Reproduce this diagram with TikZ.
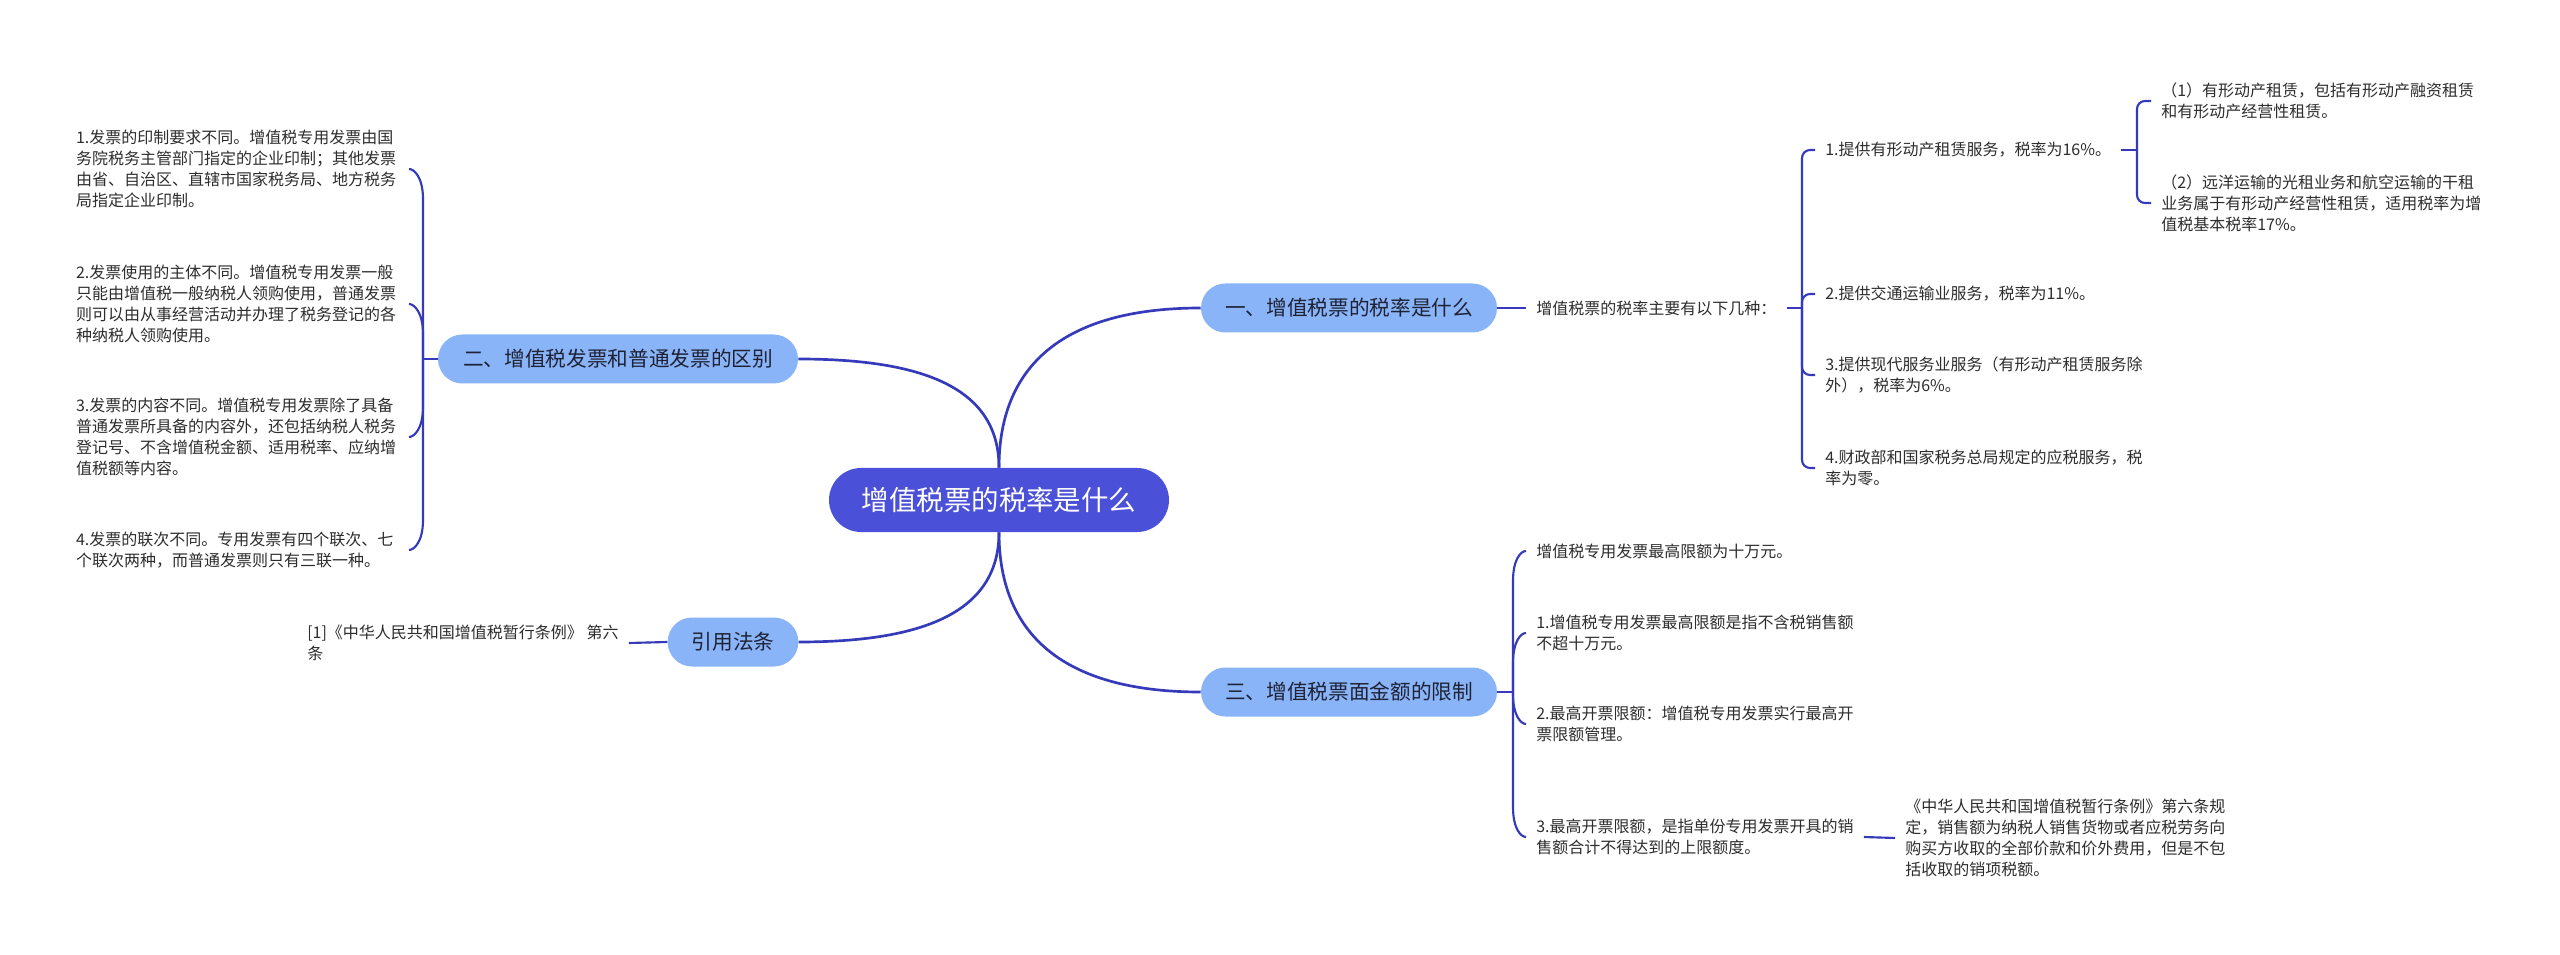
\documentclass[tikz,border=0pt]{standalone}
\usepackage{fontspec}
\newfontfamily\cjk{Noto Sans CJK SC}
\usetikzlibrary{calc}
\definecolor{rootc}{RGB}{74,80,216}
\definecolor{brc}{RGB}{138,180,248}
\definecolor{linec}{RGB}{52,58,185}
\definecolor{txtc}{RGB}{45,45,45}
\definecolor{brtxt}{RGB}{30,34,52}
\begin{document}
\begin{tikzpicture}[x=0.75pt,y=-0.75pt,
  rootnode/.style={fill=rootc, text=white, rounded corners=24pt, minimum width=255pt, minimum height=48pt, inner sep=0pt, font=\cjk\fontsize{20.6pt}{24pt}\selectfont},
  branch/.style={fill=brc, text=brtxt, rounded corners=18.3pt, minimum height=36.75pt, inner sep=0pt, font=\cjk\fontsize{15.5pt}{18pt}\selectfont},
  leaf/.style={text=txtc, align=left, inner xsep=7.5pt, inner ysep=0pt, font=\cjk\fontsize{12pt}{15.75pt}\selectfont},
  leftleaf/.style={leaf, anchor=east, text width=242pt},
  mainline/.style={draw=linec, line width=2pt},
  bline/.style={draw=linec, line width=1.6pt},
]
\fill[white] (0,0) rectangle (2560,955);
\useasboundingbox (0,0) rectangle (2560,955);

% root and branches
\node[rootnode] (root) at (999,500) {增值税票的税率是什么};
\node[branch, minimum width=222pt] (b1) at (1349,308) {一、增值税票的税率是什么};
\node[branch, minimum width=270pt] (b2) at (618,359) {二、增值税发票和普通发票的区别};
\node[branch, minimum width=98pt] (b4) at (733,642) {引用法条};
\node[branch, minimum width=222pt] (b3) at (1349,692) {三、增值税票面金额的限制};

\draw[mainline] (root.north) .. controls +(0,-108) and +(-130,0) .. (b1.west);
\draw[mainline] (root.north) .. controls +(0,-80) and +(125,0) .. (b2.east);
\draw[mainline] (root.south) .. controls +(0,108) and +(-130,0) .. (b3.west);
\draw[mainline] (root.south) .. controls +(0,80) and +(125,0) .. (b4.east);

% branch one
\node[leaf, anchor=west] (s1) at (1526,308) {增值税票的税率主要有以下几种：};
\draw[bline] (b1.east) -- (s1.west);
\coordinate (j1) at (1802,308);
\draw[bline] (s1.east) -- (j1);
\node[leaf, anchor=west] (r1) at (1815,150) {1.提供有形动产租赁服务，税率为16\%。};
\node[leaf, anchor=west] (r2) at (1815,294) {2.提供交通运输业服务，税率为11\%。};
\node[leaf, anchor=west] (r3) at (1815,375) {3.提供现代服务业服务（有形动产租赁服务除\\外），税率为6\%。};
\node[leaf, anchor=west] (r4) at (1815,468) {4.财政部和国家税务总局规定的应税服务，税\\率为零。};
\foreach \n in {r1,r2,r3,r4} \draw[bline, rounded corners=6pt] (j1) |- (\n.west);

\coordinate (j2) at (2137,150);
\draw[bline] (r1.east) -- (j2);
\node[leaf, anchor=west] (q1) at (2151,101) {（1）有形动产租赁，包括有形动产融资租赁\\和有形动产经营性租赁。};
\node[leaf, anchor=west] (q2) at (2151,203) {（2）远洋运输的光租业务和航空运输的干租\\业务属于有形动产经营性租赁，适用税率为增\\值税基本税率17\%。};
\foreach \n in {q1,q2} \draw[bline, rounded corners=6pt] (j2) |- (\n.west);

% branch three
\coordinate (j3) at (1513,692);
\draw[bline] (b3.east) -- (j3);
\node[leaf, anchor=west] (t0) at (1526,551) {增值税专用发票最高限额为十万元。};
\node[leaf, anchor=west] (t1) at (1526,633) {1.增值税专用发票最高限额是指不含税销售额\\不超十万元。};
\node[leaf, anchor=west] (t2) at (1526,724) {2.最高开票限额：增值税专用发票实行最高开\\票限额管理。};
\node[leaf, anchor=west] (t3) at (1526,837) {3.最高开票限额，是指单份专用发票开具的销\\售额合计不得达到的上限额度。};
\foreach \n in {t0,t1} \draw[bline] (j3) -- ($(\n.west)+(-13,30)$) .. controls ($(\n.west)+(-13,8)$) and ($(\n.west)+(-5,0)$) .. (\n.west);
\foreach \n in {t2,t3} \draw[bline] (j3) -- ($(\n.west)+(-13,-30)$) .. controls ($(\n.west)+(-13,-8)$) and ($(\n.west)+(-5,0)$) .. (\n.west);
\node[leaf, anchor=west] (u1) at (1895,838) {《中华人民共和国增值税暂行条例》第六条规\\定，销售额为纳税人销售货物或者应税劳务向\\购买方收取的全部价款和价外费用，但是不包\\括收取的销项税额。};
\draw[bline] (t3.east) -- (u1.west);

% branch two
\coordinate (j4) at (423,359);
\draw[bline] (b2.west) -- (j4);
\node[leftleaf] (l1) at (409,169) {1.发票的印制要求不同。增值税专用发票由国\\务院税务主管部门指定的企业印制；其他发票\\由省、自治区、直辖市国家税务局、地方税务\\局指定企业印制。};
\node[leftleaf] (l2) at (409,304) {2.发票使用的主体不同。增值税专用发票一般\\只能由增值税一般纳税人领购使用，普通发票\\则可以由从事经营活动并办理了税务登记的各\\种纳税人领购使用。};
\node[leftleaf] (l3) at (409,437) {3.发票的内容不同。增值税专用发票除了具备\\普通发票所具备的内容外，还包括纳税人税务\\登记号、不含增值税金额、适用税率、应纳增\\值税额等内容。};
\node[leftleaf] (l4) at (409,550) {4.发票的联次不同。专用发票有四个联次、七\\个联次两种，而普通发票则只有三联一种。};
\foreach \n in {l1,l2} \draw[bline] (j4) -- ($(\n.east)+(14,30)$) .. controls ($(\n.east)+(14,8)$) and ($(\n.east)+(5,0)$) .. (\n.east);
\foreach \n in {l3,l4} \draw[bline] (j4) -- ($(\n.east)+(14,-30)$) .. controls ($(\n.east)+(14,-8)$) and ($(\n.east)+(5,0)$) .. (\n.east);

% citation
\node[leaf, anchor=west] (c1) at (297,643) {[1]《中华人民共和国增值税暂行条例》 第六\\条};
\draw[bline] (b4.west) -- (c1.east);
\end{tikzpicture}
\end{document}
